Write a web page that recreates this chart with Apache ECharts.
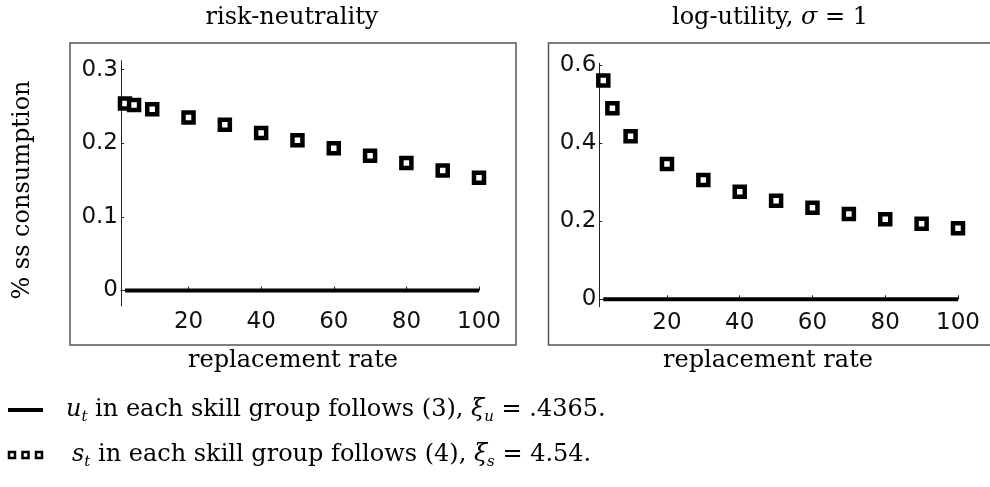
<!DOCTYPE html>
<html>
<head>
<meta charset="utf-8">
<script src="https://cdn.jsdelivr.net/npm/echarts@6/dist/echarts.min.js"></script>
<style>
html,body{margin:0;padding:0;background:#fff;}
#chart{width:990px;height:487px;}
</style>
</head>
<body>
<div id="chart"></div>
<script>
// ---- data ----
const rates = [2.5, 5, 10, 20, 30, 40, 50, 60, 70, 80, 90, 100];
const riskNeutralS = [0.254, 0.252, 0.246, 0.235, 0.225, 0.214, 0.204, 0.193, 0.183, 0.173, 0.163, 0.153];
const riskNeutralU = [0, 0, 0, 0, 0, 0, 0, 0, 0, 0, 0, 0];
const logUtilityS = [0.560, 0.489, 0.417, 0.346, 0.305, 0.275, 0.252, 0.234, 0.218, 0.205, 0.193, 0.182];
const logUtilityU = [0, 0, 0, 0, 0, 0, 0, 0, 0, 0, 0, 0];
const xTicks = [20, 40, 60, 80, 100];
const yTicksLeft = [0, 0.1, 0.2, 0.3];
const yTicksRight = [0, 0.2, 0.4, 0.6];
const panelTitles = ['risk-neutrality', 'log-utility, {i|σ} = 1'];
const xName = 'replacement rate';
const yName = '% ss consumption';
const legendU = '{i|u}{sub|t} in each skill group follows (3), {i|ξ}{sub|u} = .4365.';
const legendS = '{i|s}{sub|t} in each skill group follows (4), {i|ξ}{sub|s} = 4.54.';

const pairs = (xs, ys) => xs.map((x, i) => [x, ys[i]]);
const serif = 'DejaVu Serif';
const sans = 'DejaVu Sans';
const FS = 24;
const rich = {
  i: {fontStyle: 'italic', fontFamily: serif, fontSize: FS, fill: '#000'},
  sub: {fontStyle: 'italic', fontFamily: serif, fontSize: 15, lineHeight: 15, verticalAlign: 'bottom', fill: '#000'}
};

function xAxis(gi) {
  return {
    type: 'value', gridIndex: gi, min: 1.4, max: 100,
    axisLine: {show: true, lineStyle: {color: '#222', width: 1}},
    axisTick: {show: true, inside: true, length: 4, customValues: xTicks, lineStyle: {color: '#222'}},
    axisLabel: {customValues: xTicks, fontFamily: sans, fontSize: 23, color: '#111', margin: 5},
    splitLine: {show: false}
  };
}
function yAxis(gi, min, max, ticks) {
  return {
    type: 'value', gridIndex: gi, min: min, max: max,
    axisLine: {show: true, lineStyle: {color: '#222', width: 1}},
    axisTick: {show: true, inside: true, length: 3, customValues: ticks, lineStyle: {color: '#222'}},
    axisLabel: {customValues: ticks, fontFamily: sans, fontSize: 23, color: '#111', margin: 3,
      formatter: v => (Math.round(v * 10) / 10).toString()},
    splitLine: {show: false}
  };
}
const sqStyle = {color: '#fff', borderColor: '#000', borderWidth: 4.5, opacity: 1};

const option = {
  animation: false,
  backgroundColor: '#fff',
  grid: [
    {left: 121, top: 60.7, width: 358, height: 245.3},
    {left: 599.3, top: 63.3, width: 358.7, height: 243.4}
  ],
  xAxis: [xAxis(0), xAxis(1)],
  yAxis: [yAxis(0, -0.021, 0.312, yTicksLeft), yAxis(1, -0.019, 0.604, yTicksRight)],
  series: [
    {type: 'line', xAxisIndex: 0, yAxisIndex: 0, data: pairs(rates, riskNeutralU), symbol: 'none',
      lineStyle: {color: '#000', width: 4}, silent: true},
    {type: 'scatter', xAxisIndex: 0, yAxisIndex: 0, data: pairs(rates, riskNeutralS), symbol: 'rect',
      symbolSize: 10, itemStyle: sqStyle, z: 3},
    {type: 'line', xAxisIndex: 1, yAxisIndex: 1, data: pairs(rates, logUtilityU), symbol: 'none',
      lineStyle: {color: '#000', width: 4}, silent: true},
    {type: 'scatter', xAxisIndex: 1, yAxisIndex: 1, data: pairs(rates, logUtilityS), symbol: 'rect',
      symbolSize: 10, itemStyle: sqStyle, z: 3}
  ],
  graphic: [
    // panel frames
    {type: 'rect', shape: {x: 70, y: 43, width: 446, height: 302}, style: {fill: 'none', stroke: '#555', lineWidth: 1.5}, silent: true},
    {type: 'rect', shape: {x: 548.5, y: 43, width: 460, height: 302}, style: {fill: 'none', stroke: '#555', lineWidth: 1.5}, silent: true},
    // titles
    {type: 'text', x: 292, y: 18, style: {text: panelTitles[0], fontFamily: serif, fontSize: FS, fill: '#000', align: 'center', verticalAlign: 'middle'}},
    {type: 'text', x: 770, y: 18, style: {text: panelTitles[1], fontFamily: serif, fontSize: FS, fill: '#000', align: 'center', verticalAlign: 'middle', rich: rich}},
    // x names
    {type: 'text', x: 293, y: 361, style: {text: xName, fontFamily: serif, fontSize: FS, fill: '#000', align: 'center', verticalAlign: 'middle'}},
    {type: 'text', x: 768, y: 361, style: {text: xName, fontFamily: serif, fontSize: FS, fill: '#000', align: 'center', verticalAlign: 'middle'}},
    // y name
    {type: 'text', x: 23, y: 190, rotation: Math.PI / 2, style: {text: yName, fontFamily: serif, fontSize: FS, fill: '#000', align: 'center', verticalAlign: 'middle'}},
    // legend icons
    {type: 'rect', shape: {x: 8, y: 408, width: 35, height: 4}, style: {fill: '#000'}},
    {type: 'rect', shape: {x: 9, y: 452, width: 6, height: 6}, style: {fill: '#fff', stroke: '#000', lineWidth: 2.5}},
    {type: 'rect', shape: {x: 22.5, y: 452, width: 6, height: 6}, style: {fill: '#fff', stroke: '#000', lineWidth: 2.5}},
    {type: 'rect', shape: {x: 36, y: 452, width: 6, height: 6}, style: {fill: '#fff', stroke: '#000', lineWidth: 2.5}},
    // legend texts
    {type: 'text', x: 66, y: 410, style: {text: legendU, fontFamily: serif, fontSize: FS, fill: '#000', verticalAlign: 'middle', lineHeight: 30, rich: rich}},
    {type: 'text', x: 72, y: 455, style: {text: legendS, fontFamily: serif, fontSize: FS, fill: '#000', verticalAlign: 'middle', lineHeight: 30, rich: rich}}
  ]
};
const chart = echarts.init(document.getElementById('chart'), null, {renderer: 'canvas'});
chart.setOption(option);
</script>
</body>
</html>
